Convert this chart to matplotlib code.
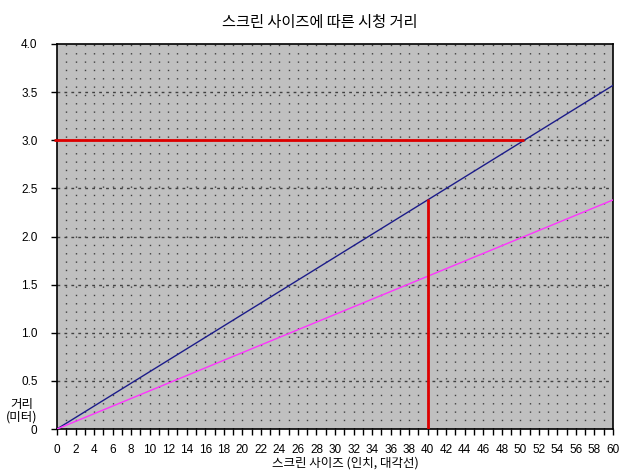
import matplotlib
matplotlib.use("Agg")
import matplotlib.pyplot as plt
import numpy as np

plt.rcParams['font.family'] = ['Noto Sans CJK KR', 'DejaVu Sans']

# Data
screen_inches = [0, 60]
distance_far = [0, 3.57]      # navy line
distance_near = [0, 2.38]     # magenta line
ref_h_x = [-0.3, 50.4]        # red horizontal at 3.0 m
ref_h_y = [3.0, 3.0]
ref_v_x = [40, 40]            # red vertical at 40 inch
ref_v_y = [0, 2.385]

x_ticks = list(range(0, 61, 2))
y_ticks = [0, 0.5, 1.0, 1.5, 2.0, 2.5, 3.0, 3.5, 4.0]
y_tick_labels = ["0", "0.5", "1.0", "1.5", "2.0", "2.5", "3.0", "3.5", "4.0"]

title = "스크린 사이즈에 따른 시청 거리"
x_label = "스크린 사이즈 (인치, 대각선)"
y_label = "거리\n(미터)"

fig = plt.figure(figsize=(6.36, 4.71), dpi=100)
ax = fig.add_axes([57/636, 1-429/471, (613-57)/636, (429-44)/471])
ax.set_facecolor('#c0c0c0')

ax.set_xlim(0, 60)
ax.set_ylim(0, 4)

# grid
for xv in range(1, 60):
    ax.axvline(xv, color='#404040', linewidth=1.0, linestyle=(0, (1, 5)), zorder=1)
for yv in y_ticks[1:-1]:
    ax.axhline(yv, color='#404040', linewidth=1.0, linestyle=(0, (2, 3)), zorder=1)

ax.plot(screen_inches, distance_far, color='#1c1c8a', linewidth=1.0, zorder=3)
ax.plot(screen_inches, distance_near, color='#ff33ff', linewidth=1.0, zorder=3)
ax.plot(ref_h_x, ref_h_y, color='#dd0000', linewidth=2.0, zorder=4,
        solid_capstyle='butt', clip_on=False)
ax.plot(ref_v_x, ref_v_y, color='#dd0000', linewidth=2.0, zorder=4, solid_capstyle='butt')

tick_font = ['Liberation Sans', 'DejaVu Sans']
ax.set_xticks(x_ticks)
ax.set_xticklabels([str(v) for v in x_ticks], fontsize=8.5, family=tick_font)
ax.set_xticks(range(0, 61), minor=True)
ax.set_yticks(y_ticks)
ax.set_yticklabels(y_tick_labels, fontsize=8.5, family=tick_font)
ax.tick_params(axis='both', which='both', direction='out', length=4, width=1, color='black')
ax.tick_params(axis='x', which='major', pad=7)
ax.tick_params(axis='y', which='major', pad=10)

for s in ax.spines.values():
    s.set_color('black')
    s.set_linewidth(1.2)

fig.text(320/636, 1-22/471, title, ha='center', va='center', fontsize=11)
fig.text(345/636, 1-463/471, x_label, ha='center', va='center', fontsize=9)
fig.text(22/636, 1-411/471, y_label, ha='center', va='center', fontsize=9, linespacing=1.0)

fig.savefig('out.png', dpi=100)
